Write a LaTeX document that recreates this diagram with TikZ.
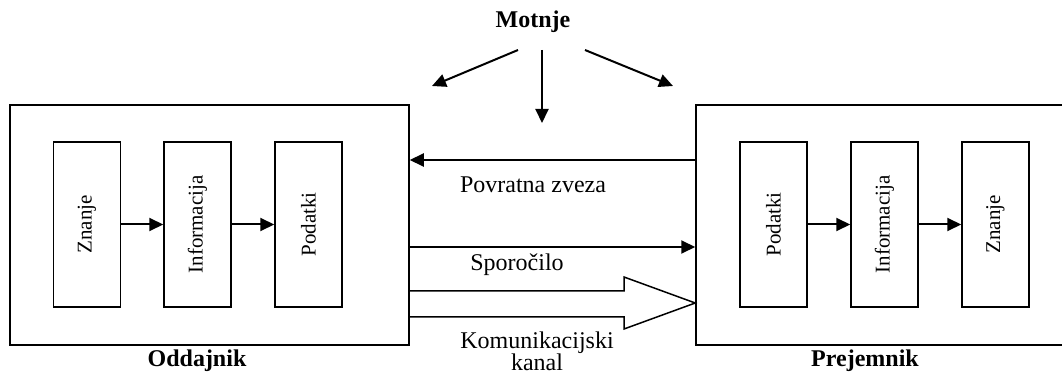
\documentclass[tikz,border=0pt]{standalone}
\usepackage{fontspec}
\setmainfont{Liberation Serif}
\usepackage{tikz}
\usetikzlibrary{positioning, arrows.meta, calc}

\tikzset{
  outerbox/.style={draw, line width=0.75pt, minimum width=#1, minimum height=120pt, inner sep=0pt},
  innerbox/.style={draw, line width=0.75pt, rotate=90, minimum width=82.5pt, minimum height=33.5pt,
                   inner sep=0pt, font=\fontsize{10.5}{12}\selectfont},
  flow/.style={line width=1pt, -{Triangle[length=7pt, width=6.5pt]}},
  caption/.style={font=\fontsize{12}{11}\selectfont, align=center}
}

\begin{document}
\begin{tikzpicture}[x=0.5pt, y=-0.5pt]
  \clip (0,0) rectangle (1062,374);
  % sender and receiver
  \node[outerbox=199.5pt] (oddajnik) at (209.5,225) {};
  \node[outerbox=192pt] (prejemnik) at (888,225) {};
  \node[innerbox] (znanjeL) at (87,224.5) {Znanje};
  \node[innerbox] (infoL) at (197.5,224.5) {Informacija};
  \node[innerbox] (podatkiL) at (308.5,224.5) {Podatki};
  \node[innerbox] (podatkiR) at (773.5,224.5) {Podatki};
  \node[innerbox] (infoR) at (884.5,224.5) {Informacija};
  \node[innerbox] (znanjeR) at (995.5,224.5) {Znanje};
  \draw[flow] (znanjeL) -- (infoL);
  \draw[flow] (infoL) -- (podatkiL);
  \draw[flow] (podatkiR) -- (infoR);
  \draw[flow] (infoR) -- (znanjeR);
  \node[caption, font=\fontsize{12}{11}\selectfont\bfseries] (oddLabel) at (197,361) {Oddajnik};
  \node[caption, font=\fontsize{12}{11}\selectfont\bfseries] (prejLabel) at (865,361) {Prejemnik};

  % channel between them
  \coordinate (fb) at (540,160);
  \coordinate (msg) at (540,247);
  \draw[flow] (prejemnik.west |- fb) -- (oddajnik.east |- fb);
  \draw[flow] (oddajnik.east |- msg) -- (prejemnik.west |- msg);
  \node[caption] (fbLabel) at (533,185) {Povratna zveza};
  \node[caption] (msgLabel) at (517,265) {Sporočilo};
  \draw[line width=0.75pt] (oddajnik.east |- 0,291) -- (624,291) -- (624,277)
    -- (prejemnik.west |- 0,303) -- (624,329) -- (624,317) -- (oddajnik.east |- 0,317);
  \node[caption] (kanalLabel) at (537,351) {Komunikacijski\\kanal};

  % noise
  \node[caption, font=\fontsize{12}{11}\selectfont\bfseries] (motnje) at (533,22) {Motnje};
  \coordinate (m1) at (518,50);
  \coordinate (m2) at (542,50);
  \coordinate (m3) at (585,50);
  \coordinate (t1) at (432,86);
  \coordinate (t2) at (542,123);
  \coordinate (t3) at (673,86);
  \draw[flow] (m1) -- (t1);
  \draw[flow] (m2) -- (t2);
  \draw[flow] (m3) -- (t3);
\end{tikzpicture}
\end{document}
